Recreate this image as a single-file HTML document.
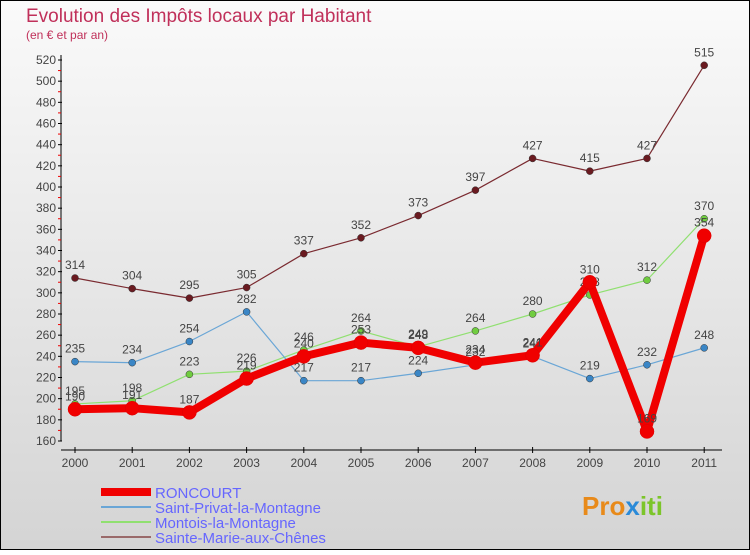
<!DOCTYPE html>
<html><head><meta charset="utf-8"><style>
body{margin:0;width:750px;height:550px;overflow:hidden;font-family:"Liberation Sans",sans-serif}
svg text{font-family:"Liberation Sans",sans-serif}
</style></head><body>
<svg id="chart" width="750" height="550" xmlns="http://www.w3.org/2000/svg">
<defs><linearGradient id="bg" x1="0" y1="0" x2="0" y2="1"><stop offset="0" stop-color="#fafafa"/><stop offset="1" stop-color="#d4d4d4"/></linearGradient></defs>
<rect x="0.5" y="0.5" width="749" height="549" fill="url(#bg)" stroke="#000"/>
<text x="26" y="22" font-size="19" fill="#c0305a">Evolution des Impôts locaux par Habitant</text>
<text x="26" y="39" font-size="12" fill="#c0305a">(en € et par an)</text>
<g id="axes"></g><g id="series"></g><g id="legend"></g>
<text x="582" y="515" font-size="26" font-weight="bold" fill="#e88a1a">Pro<tspan fill="#2a8ad8">x</tspan><tspan fill="#7cc52a">iti</tspan></text>
</svg>
<script>
const years=[2000,2001,2002,2003,2004,2005,2006,2007,2008,2009,2010,2011];
const yTicks=[160,180,200,220,240,260,280,300,320,340,360,380,400,420,440,460,480,500,520];
const roncourt=[190,191,187,219,240,253,248,234,241,310,169,354];
const saintPrivat=[235,234,254,282,217,217,224,232,240,219,232,248];
const montois=[195,198,223,226,246,264,249,264,280,298,312,370];
const sainteMarie=[314,304,295,305,337,352,373,397,427,415,427,515];
const NS="http://www.w3.org/2000/svg";
const xs=i=>75+i*57.2;
const ys=v=>441-(v-160)*(381/360);
function mk(tag,attrs,parent,txt){const e=document.createElementNS(NS,tag);for(const k in attrs)e.setAttribute(k,attrs[k]);if(txt!==undefined)e.textContent=txt;parent.appendChild(e);return e;}
const ax=document.getElementById('axes');
let l=mk('line',{x1:61,y1:55,x2:61,y2:441,stroke:'#000','stroke-width':1},ax);


l=mk('line',{x1:61,y1:450,x2:722,y2:450,stroke:'#000','stroke-width':1},ax);


yTicks.forEach(v=>{const y=ys(v);
mk('line',{x1:58,y1:y,x2:62,y2:y,stroke:'#000'},ax);
if(v<520)mk('line',{x1:58,y1:y-10.6,x2:61,y2:y-10.6,stroke:'#e00'},ax);
const t=mk('text',{x:56,y:y+4,'font-size':12,'text-anchor':'end',fill:'#444'},ax,v);

});
years.forEach((yr,i)=>{const x=xs(i);
mk('line',{x1:x,y1:447,x2:x,y2:453,stroke:'#000'},ax);
const t=mk('text',{x:x,y:467,'font-size':12,'text-anchor':'middle',fill:'#444'},ax,yr);

});
const sg=document.getElementById('series');
const defs=[
{name:'sainte-marie',data:sainteMarie,color:'#7a2a30',pt:'#6a1a20',w:1.2,r:3.5},
{name:'montois',data:montois,color:'#90e070',pt:'#70cc40',w:1.2,r:3.5},
{name:'saint-privat',data:saintPrivat,color:'#6aa6d6',pt:'#3a86c6',w:1.2,r:3.5},
{name:'roncourt',data:roncourt,color:'#f00000',pt:'#f00000',w:8,r:7}];
defs.forEach(s=>{const g=mk('g',{},sg);


const p=mk('polyline',{points:s.data.map((v,i)=>xs(i)+','+ys(v)).join(' '),fill:'none',stroke:s.color,'stroke-width':s.w,'stroke-linejoin':'round'},g);


s.data.forEach((v,i)=>{const c=mk('circle',{cx:xs(i),cy:ys(v),r:s.r,fill:s.pt,stroke:s.r>5?'#d00':'#333','stroke-width':0.5},g);


const t=mk('text',{x:xs(i),y:ys(v)-9,'font-size':12,'text-anchor':'middle',fill:'#444'},g,v);

});});
const lg=document.getElementById('legend');
const leg=[['RONCOURT','#f00000',8],['Saint-Privat-la-Montagne','#6aa6d6',2],['Montois-la-Montagne','#90e070',2],['Sainte-Marie-aux-Chênes','#9a6a6a',2]];
leg.forEach((e,i)=>{const y=492+i*15;
const ln=mk('line',{x1:101,y1:y,x2:151,y2:y,stroke:e[1],'stroke-width':e[2]},lg);


const t=mk('text',{x:155,y:y+6,'font-size':15,fill:'#6666ff'},lg,e[0]);

});
</script>
</body></html>
